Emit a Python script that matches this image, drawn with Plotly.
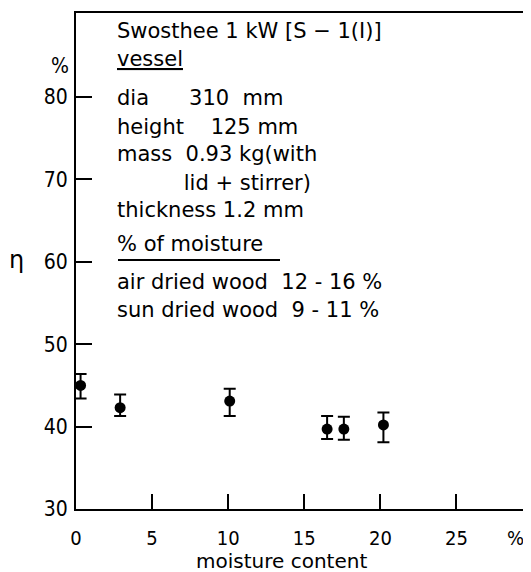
import plotly.graph_objects as go

moisture = [0.3, 2.9, 10.1, 16.5, 17.6, 20.2]
efficiency = [45.0, 42.3, 43.1, 39.7, 39.7, 40.2]
err_plus = [1.4, 1.6, 1.5, 1.6, 1.5, 1.5]
err_minus = [1.6, 1.0, 1.8, 1.2, 1.3, 2.1]

x_ticks = [0, 5, 10, 15, 20, 25]
y_ticks = [30, 40, 50, 60, 70, 80]

info_lines = [
    "Swosthee 1 kW [S − 1(I)]",
    "<u>vessel</u>",
    "dia      310  mm",
    "height    125 mm",
    "mass  0.93 kg(with",
    "          lid + stirrer)",
    "thickness 1.2 mm",
    "% of moisture",
    "air dried wood  12 - 16 %",
    "sun dried wood  9 - 11 %",
]
info_y = [31, 59, 98, 127, 154, 183, 210, 244, 282, 310]

FONT = "DejaVu Sans"
TICKFONT = "Liberation Sans Narrow, DejaVu Sans Condensed, DejaVu Sans"

# The page body has an 8px margin; work in page pixels and convert.
OFF = 8
W, H = 531 - OFF, 572 - OFF
PL, PT, PR, PB = 76, 13, 528, 509  # plot area in page pixels
L, T = PL - OFF, PT - OFF
R = W - (PR - OFF)
B = H - (PB - OFF)

fig = go.Figure()
fig.add_trace(go.Scatter(
    x=moisture, y=efficiency, mode="markers",
    marker=dict(color="black", size=11),
    error_y=dict(type="data", symmetric=False, array=err_plus, arrayminus=err_minus,
                 color="black", thickness=2, width=6),
    showlegend=False,
))

pw = PR - PL
ph = PB - PT


def px(xp):
    return (xp - PL) / pw


def py(yp):
    return 1 - (yp - PT) / ph


for txt, yy in zip(info_lines, info_y):
    fig.add_annotation(
        x=px(115), y=py(yy), xref="paper", yref="paper",
        text=txt, showarrow=False, xanchor="left", yanchor="middle",
        font=dict(family=FONT, size=21, color="black"),
    )
# underline under "% of moisture"
fig.add_shape(type="line", xref="paper", yref="paper",
              x0=px(118), x1=px(280), y0=py(260), y1=py(260),
              line=dict(color="black", width=2))

side_texts = [
    ("η", 17, 260, FONT, 24),
    ("%", 60, 66, TICKFONT, 21),
    ("%", 515, 538, TICKFONT, 20),
    ("moisture content", 281, 561, FONT, 20),
]
for txt, xx, yy, fam, sz in side_texts:
    fig.add_annotation(
        x=px(xx), y=py(yy), xref="paper", yref="paper", text=txt, showarrow=False,
        xanchor="center", yanchor="middle", borderpad=0,
        font=dict(family=fam, size=sz, color="black"),
    )

fig.update_xaxes(
    range=[0, 29.7], tickvals=x_ticks, ticks="inside", ticklen=15, tickwidth=2,
    tickcolor="black", showline=True, linecolor="black", linewidth=2, mirror=True,
    showgrid=False, zeroline=False, automargin=False, ticklabelstandoff=10,
    tickfont=dict(family=TICKFONT, size=20, color="black"),
)
fig.update_yaxes(
    range=[30, 90.2], tickvals=y_ticks, ticks="inside", ticklen=16, tickwidth=2,
    tickcolor="black", showline=True, linecolor="black", linewidth=2, mirror=True,
    showgrid=False, zeroline=False, automargin=False, ticklabelstandoff=2,
    tickfont=dict(family=TICKFONT, size=21, color="black"),
)
fig.update_layout(
    width=W, height=H, margin=dict(l=L, r=R, t=T, b=B),
    paper_bgcolor="white", plot_bgcolor="white",
)
fig.write_html("out.html")
